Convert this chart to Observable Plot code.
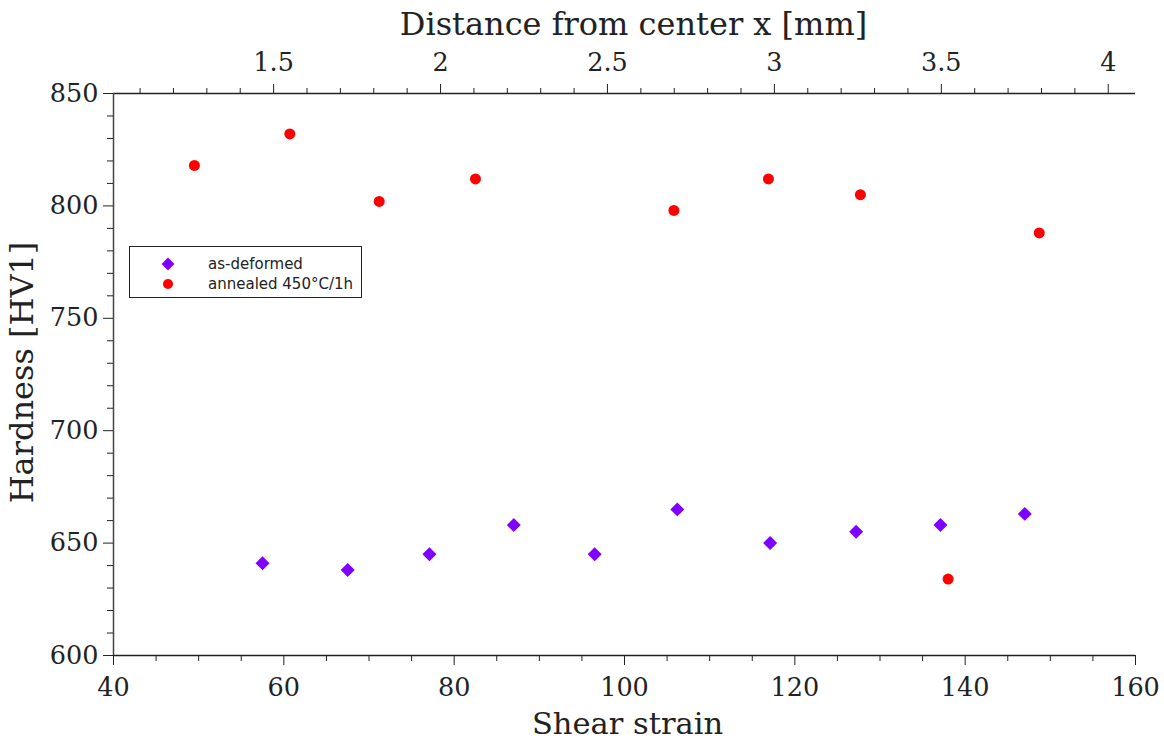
<!DOCTYPE html>
<html>
<head>
<meta charset="utf-8">
<script src="https://cdn.jsdelivr.net/npm/d3@7"></script>
<script src="https://cdn.jsdelivr.net/npm/@observablehq/plot@0.6"></script>
<style>
  html, body { margin: 0; padding: 0; background: #fff; }
  #wrap { position: relative; width: 1164px; height: 742px; }
  #legend {
    position: absolute; left: 129px; top: 246px; width: 231px; height: 50px;
    border: 1px solid #222; background: #fff;
    font-family: "DejaVu Sans", sans-serif; font-size: 15px; color: #222;
  }
  #legend .item { position: absolute; left: 0; height: 20px; display: flex; align-items: center; }
  #legend svg { position: absolute; left: 30px; }
  #legend span { position: absolute; left: 78px; white-space: nowrap; }
</style>
</head>
<body>
<div id="wrap"></div>
<script>
// ---- data ----
const deformedStrain   = [57.5, 67.5, 77.1, 87.0, 96.5, 106.2, 117.1, 127.2, 137.1, 147.0];
const deformedHardness = [641, 638, 645, 658, 645, 665, 650, 655, 658, 663];
const annealedStrain   = [49.5, 60.7, 71.2, 82.5, 105.8, 116.9, 127.7, 138.0, 148.7];
const annealedHardness = [818, 832, 802, 812, 798, 812, 805, 634, 788];
const seriesNames = ["as-deformed", "annealed 450°C/1h"];
const seriesColors = ["#7f00ff", "#ff0000"];
const strainTicks = [40, 60, 80, 100, 120, 140, 160];
const hardnessTicks = [600, 650, 700, 750, 800, 850];
const distanceTicks = [1.5, 2, 2.5, 3, 3.5, 4];
const strainPerMm = 39.2; // shear strain per mm of distance from center
const xLabel = "Shear strain";
const yLabel = "Hardness [HV1]";
const topLabel = "Distance from center x [mm]";

const deformed = deformedStrain.map((x, i) => ({x, y: deformedHardness[i]}));
const annealed = annealedStrain.map((x, i) => ({x, y: annealedHardness[i]}));

const minorX = d3.range(45, 160, 5).filter(v => v % 20 !== 0);
const minorY = d3.range(610, 850, 10).filter(v => v % 50 !== 0);
const distMinor = d3.range(11, 41).map(v => v / 10).filter(v => !distanceTicks.includes(v));
const blank = () => "";
const TICK_FS = 25.5;
const ink = "#222";

const chart = Plot.plot({
  width: 1164,
  height: 742,
  marginLeft: 113,
  marginRight: 29,
  marginTop: 93,
  marginBottom: 87,
  style: { fontFamily: "DejaVu Serif", color: ink, background: "white" },
  x: { domain: [40, 160] },
  y: { domain: [600, 850] },
  marks: [
    // axis lines
    Plot.ruleY([600], { stroke: ink, strokeWidth: 1.3 }),
    Plot.ruleY([850], { stroke: ink, strokeWidth: 1.3 }),
    Plot.ruleX([40], { stroke: "#444", strokeWidth: 1.5 }),
    // bottom axis
    Plot.axisX(strainTicks, { anchor: "bottom", tickSize: 10, tickPadding: 12, fontSize: TICK_FS, label: null, stroke: ink }),
    Plot.axisX(minorX, { anchor: "bottom", tickSize: 6, tickFormat: blank, label: null, stroke: ink }),
    // left axis
    Plot.axisY(hardnessTicks, { anchor: "left", tickSize: 10, tickPadding: 5, fontSize: TICK_FS, label: null, stroke: ink }),
    Plot.axisY(minorY, { anchor: "left", tickSize: 6, tickFormat: blank, label: null, stroke: ink }),
    // top axis (distance from center)
    Plot.axisX(distanceTicks.map(d => d * strainPerMm), {
      anchor: "top", tickSize: 10, tickPadding: 13, fontSize: TICK_FS, label: null, stroke: ink,
      tickFormat: v => String(+(v / strainPerMm).toFixed(2))
    }),
    Plot.axisX(distMinor.map(d => d * strainPerMm), { anchor: "top", tickSize: 6, tickFormat: blank, label: null, stroke: ink }),
    // axis titles
    Plot.text([xLabel], { frameAnchor: "bottom", lineAnchor: "middle", textAnchor: "middle", dx: 3, dy: 69, fontSize: 30.5, fill: ink }),
    Plot.text([topLabel], { frameAnchor: "top", lineAnchor: "middle", textAnchor: "middle", dx: 9, dy: -69, fontSize: 32, fill: ink }),
    Plot.text([yLabel], { frameAnchor: "left", lineAnchor: "middle", textAnchor: "middle", dx: -91, dy: -2, rotate: -90, fontSize: 32, fill: ink }),
    // data
    Plot.dot(deformed, { x: "x", y: "y", symbol: "diamond2", r: 6.3, fill: seriesColors[0], stroke: null }),
    Plot.dot(annealed, { x: "x", y: "y", symbol: "circle", r: 5.5, fill: seriesColors[1], stroke: null })
  ]
});

const wrap = document.getElementById("wrap");
wrap.appendChild(chart);

// legend (inside plot area)
const legend = document.createElement("div");
legend.id = "legend";
const symbols = [d3.symbolDiamond2, d3.symbolCircle];
const sizes = [Math.PI * 6.3 * 6.3, Math.PI * 5.5 * 5.5];
seriesNames.forEach((name, i) => {
  const item = document.createElement("div");
  item.className = "item";
  item.style.top = (7 + i * 20) + "px";
  item.style.width = "100%";
  const svg = d3.create("svg").attr("width", 16).attr("height", 16).attr("viewBox", "-8 -8 16 16");
  svg.append("path").attr("d", d3.symbol(symbols[i], sizes[i] * 0.85)()).attr("fill", seriesColors[i]);
  item.appendChild(svg.node());
  const span = document.createElement("span");
  span.textContent = name;
  item.appendChild(span);
  legend.appendChild(item);
});
wrap.appendChild(legend);
</script>
</body>
</html>
